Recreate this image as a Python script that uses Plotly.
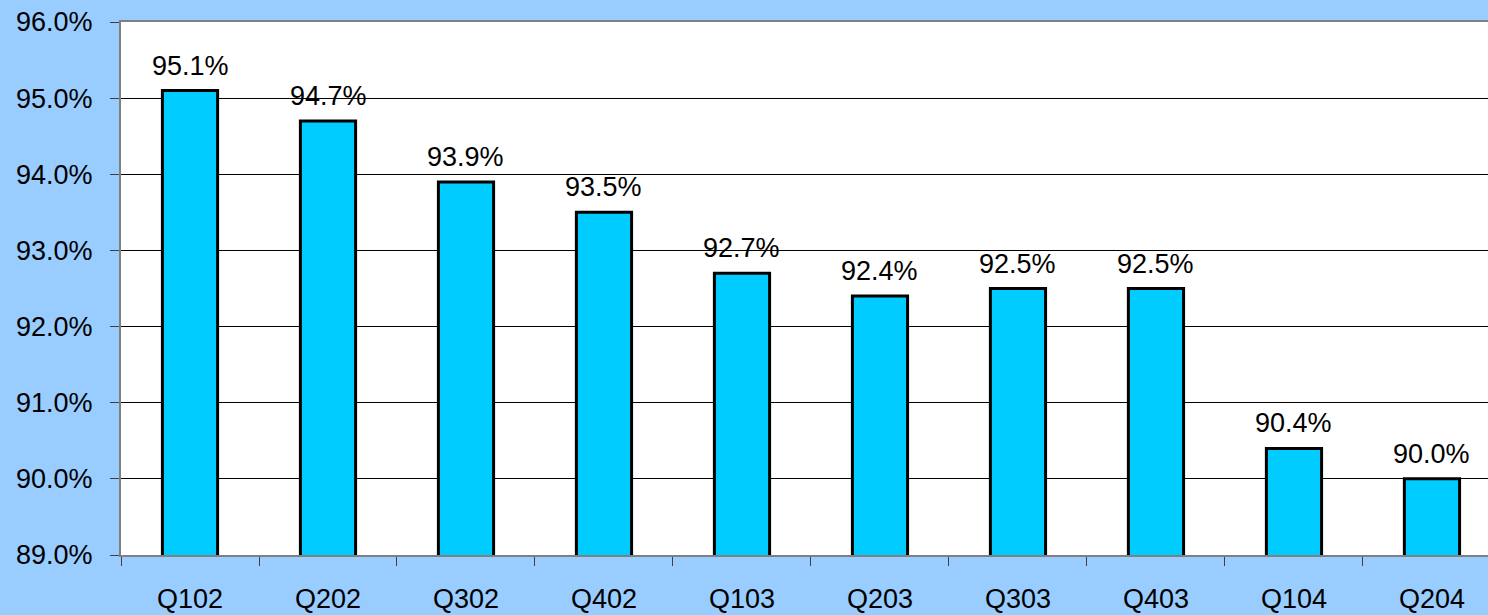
import plotly.graph_objects as go

quarters = ["Q102", "Q202", "Q302", "Q402", "Q103", "Q203", "Q303", "Q403", "Q104", "Q204"]
values = [95.1, 94.7, 93.9, 93.5, 92.7, 92.4, 92.5, 92.5, 90.4, 90.0]
y_ticks = [89, 90, 91, 92, 93, 94, 95, 96]
y_tick_labels = [f"{v:.1f}%" for v in y_ticks]

FONT = "Liberation Sans, Arial"
SIZE = 27

fig = go.Figure()
fig.add_trace(go.Bar(
    x=quarters,
    y=values,
    width=0.4,
    marker=dict(color="#00CCFF", line=dict(color="black", width=3)),
))

for q, v in zip(quarters, values):
    fig.add_annotation(
        x=q, y=v, text=f"{v:.1f}%", showarrow=False,
        yanchor="middle", yshift=25,
        font=dict(family=FONT, size=SIZE, color="black"),
    )

fig.update_layout(
    width=1488,
    height=615,
    paper_bgcolor="#99CCFF",
    plot_bgcolor="white",
    margin=dict(l=121, r=0, t=22, b=60),
    showlegend=False,
    font=dict(family=FONT, size=SIZE, color="black"),
)
fig.update_xaxes(
    type="category",
    range=[-0.5, 9.406],
    showline=True,
    linecolor="#808080",
    linewidth=2,
    mirror=True,
    ticks="outside",
    tickson="boundaries",
    ticklen=9,
    tickcolor="#404040",
    tickwidth=1,
    ticklabelstandoff=19,
    tickfont=dict(size=SIZE),
    showgrid=False,
)
fig.update_yaxes(
    range=[89, 96],
    tickvals=y_ticks,
    ticktext=y_tick_labels,
    showgrid=True,
    gridcolor="black",
    gridwidth=1,
    showline=True,
    linecolor="#808080",
    linewidth=2,
    ticks="outside",
    ticklen=9,
    tickcolor="#404040",
    tickwidth=1,
    ticklabelstandoff=12,
    tickfont=dict(size=SIZE),
    zeroline=False,
)

fig.write_html("out.html")
